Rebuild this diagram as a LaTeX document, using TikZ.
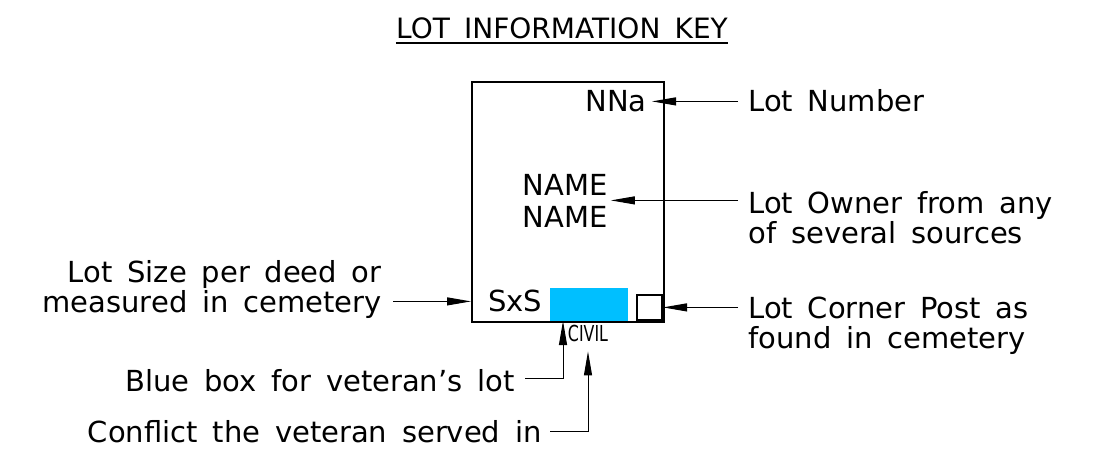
\documentclass[tikz,border=0pt]{standalone}
\usepackage{fontspec}
\setmainfont[WordSpace=1.6]{DejaVu Sans}
\usepackage{graphicx}
\usetikzlibrary{arrows.meta}
\definecolor{vetblue}{HTML}{00BFFF}

\begin{document}
\begin{tikzpicture}[x=0.5pt, y=-0.5pt,
    lbl/.style={inner sep=0pt, font=\fontsize{14.5}{14.5}\selectfont, text height=10.6pt, text depth=0pt},
    ptr/.style={line width=0.5pt, -{Triangle[length=12pt,width=4pt]}}]
    \useasboundingbox (0,0) rectangle (1110,466);

    % heading
    \node[lbl, font=\fontsize{14}{14}\selectfont, text height=10pt, anchor=base] (title) at (562,39) {LOT INFORMATION KEY};
    \draw[line width=1pt] ([yshift=-1.8pt]title.base west) -- ([yshift=-1.8pt]title.base east);

    % the lot
    \node[fill=vetblue, minimum width=39pt, minimum height=16.5pt, inner sep=0pt, anchor=south west] (vet) at (550,321) {};
    \node[draw, line width=1pt, minimum width=96pt, minimum height=120pt, inner sep=0pt, anchor=north west] (lot) at (471,81) {};
    \node[draw, line width=1pt, minimum size=12.5pt, inner sep=0pt, anchor=south east] (post) at (663,321) {};

    \node[lbl, anchor=base east] (nna) at (647,112) {NNa};
    \node[lbl, anchor=base] (nameA) at (565,195) {NAME};
    \node[lbl, anchor=base] (nameB) at (565,227) {NAME};
    \node[lbl, anchor=base west] (sxs) at (488,311) {SxS};
    \node[lbl, font=\fontsize{11}{11}\selectfont, anchor=base] (civil) at (588,341) {\scalebox{0.72}[1]{CIVIL}};

    % labels
    \node[lbl, anchor=base west] (lotnum) at (748,112) {Lot Number};
    \node[lbl, anchor=base west] (owner) at (748,213) {Lot Owner from any};
    \node[lbl, anchor=base west] (owner2) at (748,243) {of several sources};
    \node[lbl, anchor=base west] (corner) at (748,318) {Lot Corner Post as};
    \node[lbl, anchor=base west] (corner2) at (748,348) {found in cemetery};
    \node[lbl, anchor=base east] (size) at (382,282) {Lot Size per deed or};
    \node[lbl, anchor=base east] (size2) at (382,312) {measured in cemetery};
    \node[lbl, anchor=base east] (bluelbl) at (515,391) {Blue box for veteran’s lot};
    \node[lbl, anchor=base east] (conflict) at (542,442) {Conflict the veteran served in};

    % pointers
    \draw[ptr, shorten <=5pt, shorten >=2.5pt] (lotnum.west) -- (lotnum.west -| nna.east);
    \draw[ptr, shorten <=5pt, shorten >=1.5pt] ([yshift=1pt]owner.west) -- ([yshift=1pt]owner.west -| nameA.east);
    \draw[ptr, shorten <=5pt] (corner.west) -- (corner.west -| post.east);
    \draw[ptr, shorten <=5.5pt] (size2.east) -- (size2.east -| lot.west);
    \draw[ptr, shorten <=5pt] ([yshift=1pt]bluelbl.east) -| ([xshift=6.5pt]vet.south west);
    \draw[ptr, shorten <=4pt, shorten >=5pt] (conflict.east) -| (civil.south);
\end{tikzpicture}
\end{document}
